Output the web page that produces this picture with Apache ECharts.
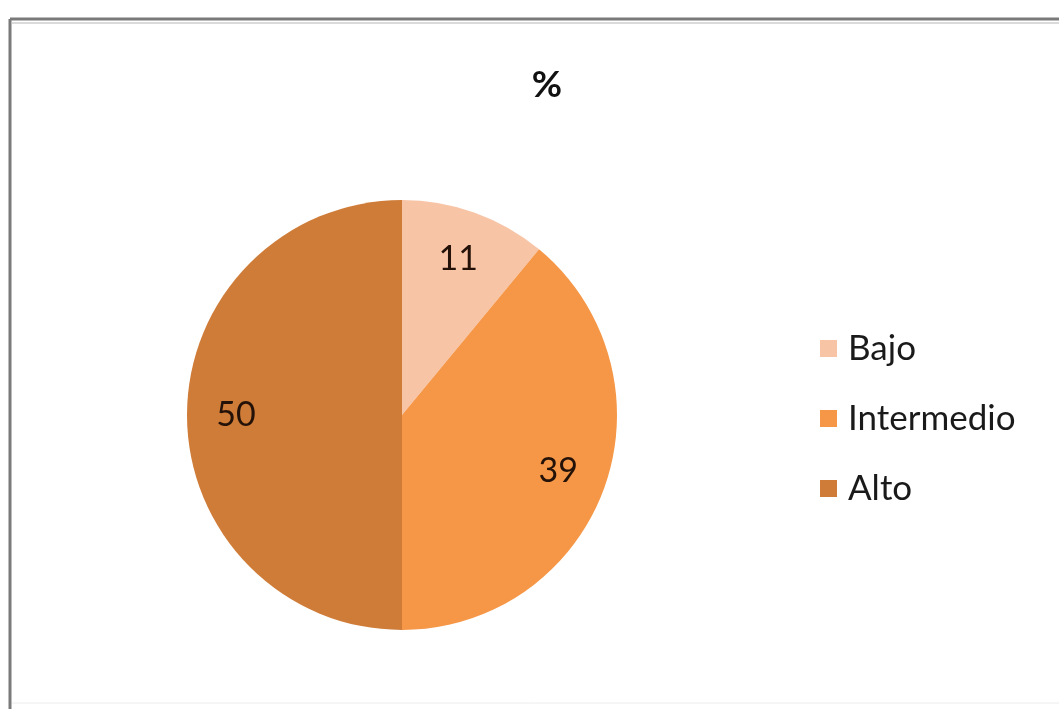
<!DOCTYPE html>
<html>
<head>
<meta charset="utf-8">
<script src="https://cdn.jsdelivr.net/npm/echarts@6/dist/echarts.min.js"></script>
<style>
  html, body { margin: 0; padding: 0; background: #ffffff; }
  #chart { width: 1059px; height: 709px; }
</style>
</head>
<body>
<div id="chart"></div>
<script>
// Shares by level (percent)
const categories = ['Bajo', 'Intermedio', 'Alto'];
const values = [11, 39, 50];
const colors = ['#F8C4A6', '#F59747', '#CF7C38'];
const chartTitle = '%';

const pieData = categories.map((name, i) => ({
  name: name,
  value: values[i],
  itemStyle: { color: colors[i] }
}));

const center = [402, 415];
const fontFamily = 'Lato, "Open Sans", "Noto Sans", sans-serif';

const chart = echarts.init(document.getElementById('chart'));
chart.setOption({
  backgroundColor: '#ffffff',
  animation: false,
  title: {
    text: chartTitle,
    left: 542,
    top: 62,
    textAlign: 'center',
    textStyle: { fontFamily: fontFamily, fontSize: 37, fontWeight: 'bold', color: '#111111' }
  },
  legend: {
    orient: 'vertical',
    left: 815,
    top: 326,
    icon: 'rect',
    itemWidth: 17,
    itemHeight: 17,
    itemGap: 35,
    data: categories,
    textStyle: { fontFamily: fontFamily, fontSize: 35, color: '#1a1a1a', padding: [0, 0, 0, 6] }
  },
  graphic: [
    // chart frame
    { type: 'line', shape: { x1: 10, y1: 19, x2: 1059, y2: 19 }, style: { stroke: '#7a7a7a', lineWidth: 3 } },
    { type: 'line', shape: { x1: 10, y1: 19, x2: 10, y2: 709 }, style: { stroke: '#7a7a7a', lineWidth: 3 } },
    { type: 'line', shape: { x1: 12, y1: 23, x2: 1059, y2: 23 }, style: { stroke: '#dadada', lineWidth: 2 } },
    { type: 'line', shape: { x1: 12, y1: 703, x2: 1059, y2: 703 }, style: { stroke: '#ececec', lineWidth: 1 } }
  ],
  series: [
    {
      type: 'pie',
      center: center,
      radius: 215,
      startAngle: 90,
      clockwise: true,
      silent: true,
      label: { show: false },
      labelLine: { show: false },
      itemStyle: { borderWidth: 0 },
      data: pieData
    },
    {
      // transparent ring that carries the value labels further out in each slice
      type: 'pie',
      center: center,
      radius: [111, 215],
      startAngle: 90,
      clockwise: true,
      silent: true,
      legendHoverLink: false,
      itemStyle: { color: 'rgba(0,0,0,0)', borderWidth: 0 },
      label: {
        show: true,
        position: 'inside',
        formatter: '{c}',
        fontFamily: fontFamily,
        fontSize: 34,
        color: '#241208'
      },
      labelLine: { show: false },
      data: categories.map((name, i) => ({ name: name, value: values[i] }))
    }
  ]
});
</script>
</body>
</html>
